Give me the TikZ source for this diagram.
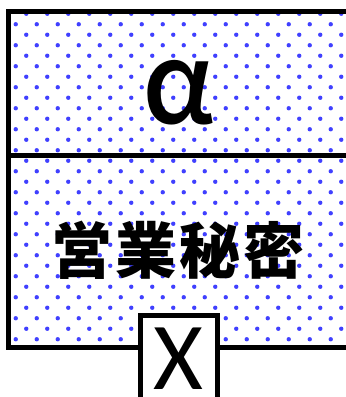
\documentclass[tikz,border=0pt]{standalone}
\usepackage{fontspec}
\newfontfamily\carlito{Carlito}
\newfontfamily\cjk{Noto Sans CJK JP}
\newfontfamily\cjkmed{Noto Sans CJK JP}[UprightFont={* Medium}]
\usetikzlibrary{patterns.meta}
\tikzdeclarepattern{
  name=bluedots,
  type=uncolored,
  bottom left={(-0.5pt,-0.5pt)},
  top right={(20.5pt,20.5pt)},
  tile size={(21pt,21pt)},
  code={
    \tikzset{x=1pt,y=1pt}
    \fill (5.25,5.25) circle (2.2);
    \fill (15.75,15.75) circle (2.2);
  }
}
\tikzset{
  frame/.style={line width=5pt, draw=black},
  dotfill/.style={pattern=bluedots, pattern color=blue!75!white},
  bigtext/.style={inner sep=0pt, text=black},
}
\begin{document}
\begin{tikzpicture}[x=1pt,y=1pt]
\useasboundingbox (0,0) rectangle (346,397);
\begin{scope}
\clip (0,0) rectangle (346,397);
\fill[white] (0,0) rectangle (346,397);
\fill[dotfill] (8.5,49) rectangle (360,385.5);
\draw[frame] (360,385.5) -- (8.5,385.5) -- (8.5,49) -- (360,49);
\draw[frame] (8.5,241.5) -- (360,241.5);
\node[bigtext, anchor=base, font={\cjkmed\fontsize{112}{112}\selectfont}] (alpha) at (178.5,273) {α};
\node[bigtext, anchor=center, font={\cjk\bfseries\fontsize{61}{61}\selectfont}] (secret) at (178.5,147) {営\hspace{3pt}業\hspace{3pt}秘\hspace{3pt}密};
\draw[frame, fill=white] (140.5,-10) rectangle (217.5,81.5);
\node[bigtext, anchor=base, font={\carlito\fontsize{96}{96}\selectfont}] (x) at (178.5,7) {X};
\end{scope}
\end{tikzpicture}
\end{document}
